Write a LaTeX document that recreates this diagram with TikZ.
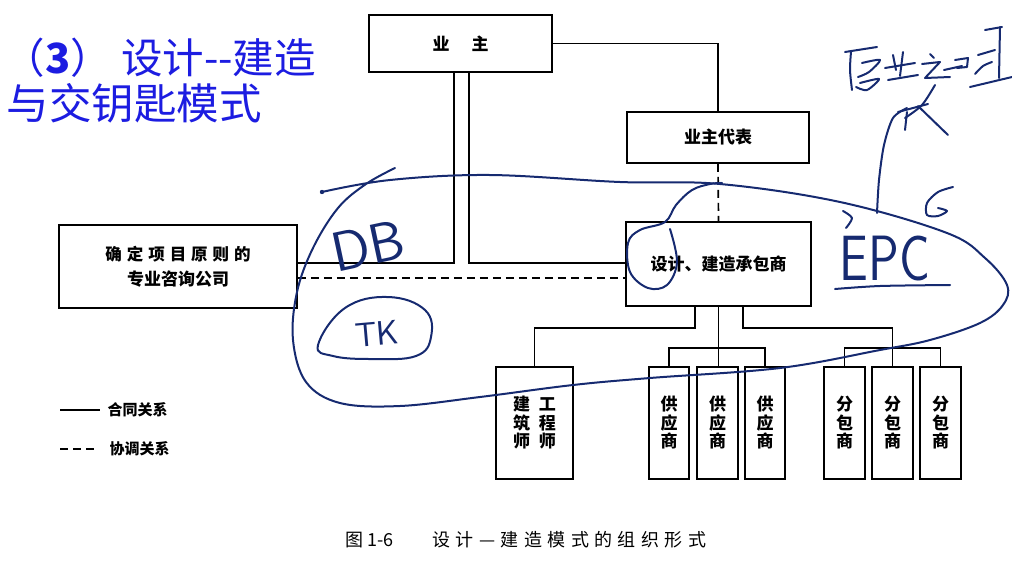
\documentclass[tikz,border=0pt]{standalone}
\usepackage{fontspec}
\usepackage{xcolor}
\usetikzlibrary{positioning,calc}
\newfontfamily\cjk{Noto Sans CJK SC}
\newfontfamily\cjkwide{Noto Sans CJK SC}[LetterSpace=30]
\definecolor{titleblue}{RGB}{28,28,225}
\definecolor{ink}{RGB}{22,42,112}

\begin{document}
\begin{tikzpicture}[x=1pt, y=-1pt,
  every node/.style={font=\cjk\bfseries\fontsize{17}{18.5}\selectfont},
  orgbox/.style={draw, line width=1.7pt, inner sep=0pt, align=center},
  tallbox/.style={orgbox, minimum width=40pt, minimum height=112pt},
  link/.style={line width=1.7pt},
  coord/.style={link, dash pattern=on 8pt off 5pt},
  hand/.style={draw=ink, line width=2pt, line cap=round, line join=round},
  handtext/.style={text=ink, inner sep=0pt, font=\sffamily\fontsize{#1}{#1}\selectfont}
]
\useasboundingbox (0,0) rectangle (1012,568);

% title
\node[anchor=west, text=titleblue, font=\cjk\fontsize{41.5}{41.5}\selectfont] (title1) at (0,58)
  {（\textbf{3}） 设计-{}-建造};
\node[anchor=west, text=titleblue, font=\cjk\fontsize{42.5}{42.5}\selectfont] (title2) at (3,103)
  {与交钥匙模式};

% organisation
\node[orgbox, minimum width=183pt, minimum height=57pt] (owner) at (460.5,43.5) {业\hspace{22pt}主};
\node[orgbox, minimum width=182pt, minimum height=51pt] (rep) at (718,137.5) {业主代表};
\node[orgbox, minimum width=185pt, minimum height=84pt] (dbc) at (718.5,264) {设计、建造承包商};
\node[orgbox, minimum width=238pt, minimum height=83pt] (cons) at (178,266.5)
  {{\cjkwide\bfseries\fontsize{16.5}{18}\selectfont 确定项目原则的}\\[6pt]专业咨询公司};

\node[tallbox, minimum width=77pt] (arch) at (534.5,423) {建\hspace{9pt}工\\筑\hspace{9pt}程\\师\hspace{9pt}师};
\node[tallbox] (sup1) at (669,423) {供\\应\\商};
\node[tallbox, minimum width=41pt] (sup2) at (717.5,423) {供\\应\\商};
\node[tallbox] (sup3) at (765,423) {供\\应\\商};
\node[tallbox, minimum width=41pt] (sub1) at (844.5,423) {分\\包\\商};
\node[tallbox, minimum width=41pt] (sub2) at (892.5,423) {分\\包\\商};
\node[tallbox, minimum width=41pt] (sub3) at (940.5,423) {分\\包\\商};

\draw[link] (owner.east) -| (rep.north);
\draw[coord] (rep.south) -- (dbc.north);
\draw[link] ([xshift=-6.5pt]owner.south) |- ([yshift=3.5pt]cons.east);
\draw[link] ([xshift=8.5pt]owner.south) |- ([yshift=1pt]dbc.west);
\draw[coord] ([yshift=-11.5pt]cons.east) -- ([yshift=-11.5pt]cons.east -| dbc.west);

\draw[link] ([xshift=-23.5pt]dbc.south) -- ++(0,21) -| (arch.north);
\draw[link] (dbc.south) -- (dbc.south |- sup2.north);
\draw[link] ([xshift=24.5pt]dbc.south) -- ++(0,21) -| (sub2.north);
\draw[link] (sup1.north) -- ++(0,-18) -| (sup3.north);
\draw[link] (sub1.north) -- ++(0,-18) -| (sub3.north);

% legend
\coordinate (lgA1) at (60,410);
\coordinate (lgA2) at (100,410);
\coordinate (lgB1) at (60,449);
\coordinate (lgB2) at (95,449);
\draw[link] (lgA1) -- (lgA2);
\draw[coord] (lgB1) -- (lgB2);
\node[anchor=west, font=\cjk\bfseries\fontsize{15}{15}\selectfont] (lgA) at (104,410) {合同关系};
\node[anchor=west, font=\cjk\bfseries\fontsize{15}{15}\selectfont] (lgB) at (106,449) {协调关系};

% caption
\node[anchor=west, font=\cjk\fontsize{18}{18}\selectfont] (capnum) at (342,540) {图 1-6};
\node[anchor=west, font=\cjkwide\fontsize{18}{18}\selectfont] (caption) at (429,540)
  {设计—建造模式的组织形式};

% handwritten notes
\draw[hand] plot[smooth, tension=0.6] coordinates {(322,192) (390,180) (490,175) (620,182)
  (720,184) (840,202) (947,233) (985,258) (1007,285) (1003,305) (980,323) (930,340)
  (880,350) (780,368) (650,378) (573,385) (480,397) (400,406) (340,403) (306,382)
  (293,340) (297,292) (313,248) (338,208) (366,184) (395,168)};
\fill[ink] (322,192) circle (2.2pt);
\node[handtext=56, rotate=12] (db) at (368,246) {DB};
\node[handtext=34, rotate=5] (tk) at (377,334) {TK};
\draw[hand] plot[smooth cycle, tension=0.7] coordinates {(318,345) (345,308) (388,297)
  (425,310) (431,337) (416,356) (372,359) (333,356)};
\node[handtext=64] (epc) at (885,259) {\scalebox{0.8}[1]{EPC}};
\draw[hand] plot[smooth] coordinates {(835,289) (880,286) (950,285)};
\draw[hand] plot[smooth, tension=0.6] coordinates {(670,229) (677,262) (667,285) (648,288)
  (630,272) (628,243) (640,230) (665,222) (676,205) (692,190) (710,184) (722,183)};
\draw[hand] plot[smooth] coordinates {(877,213) (879,180) (884,145) (893,118) (907,108)};
\draw[hand] plot[smooth] coordinates {(953,187) (938,192) (927,203) (927,215) (938,216) (947,211) (938,208)};
\draw[hand] plot[smooth] coordinates {(843,211) (852,218) (846,228)};
% scribble at top right
\draw[hand] (845,52) -- (877,47);
\draw[hand] plot[smooth] coordinates {(851,52) (850,70) (852,90)};
\draw[hand] plot[smooth] coordinates {(862,63) (880,60) (869,72) (858,77)};
\draw[hand] plot[smooth] coordinates {(860,83) (879,79) (867,90) (856,87)};
\draw[hand] (893,55) -- (896,70);
\draw[hand] (903,52) -- (900,76);
\draw[hand] (885,68) -- (915,63);
\draw[hand] (888,80) -- (918,75);
\draw[hand] (930,54) -- (934,58);
\draw[hand] (922,64) -- (940,62) -- (925,78) -- (950,77);
\draw[hand] (944,70) -- (962,66);
\draw[hand] (955,60) -- (968,58) -- (967,67) -- (957,68);
\draw[hand] (985,30) -- (1002,27);
\draw[hand] (1000,27) -- (999,78);
\draw[hand] (978,55) -- (995,50);
\draw[hand] plot[smooth] coordinates {(975,74) (983,66) (992,62)};
\draw[hand] (970,87) -- (1012,77);
\draw[hand] plot[smooth] coordinates {(935,85) (922,105) (905,118)};
\draw[hand] (898,112) -- (928,104);
\draw[hand] (918,106) -- (948,135);
\draw[hand] (907,112) -- (905,130);
\end{tikzpicture}
\end{document}
